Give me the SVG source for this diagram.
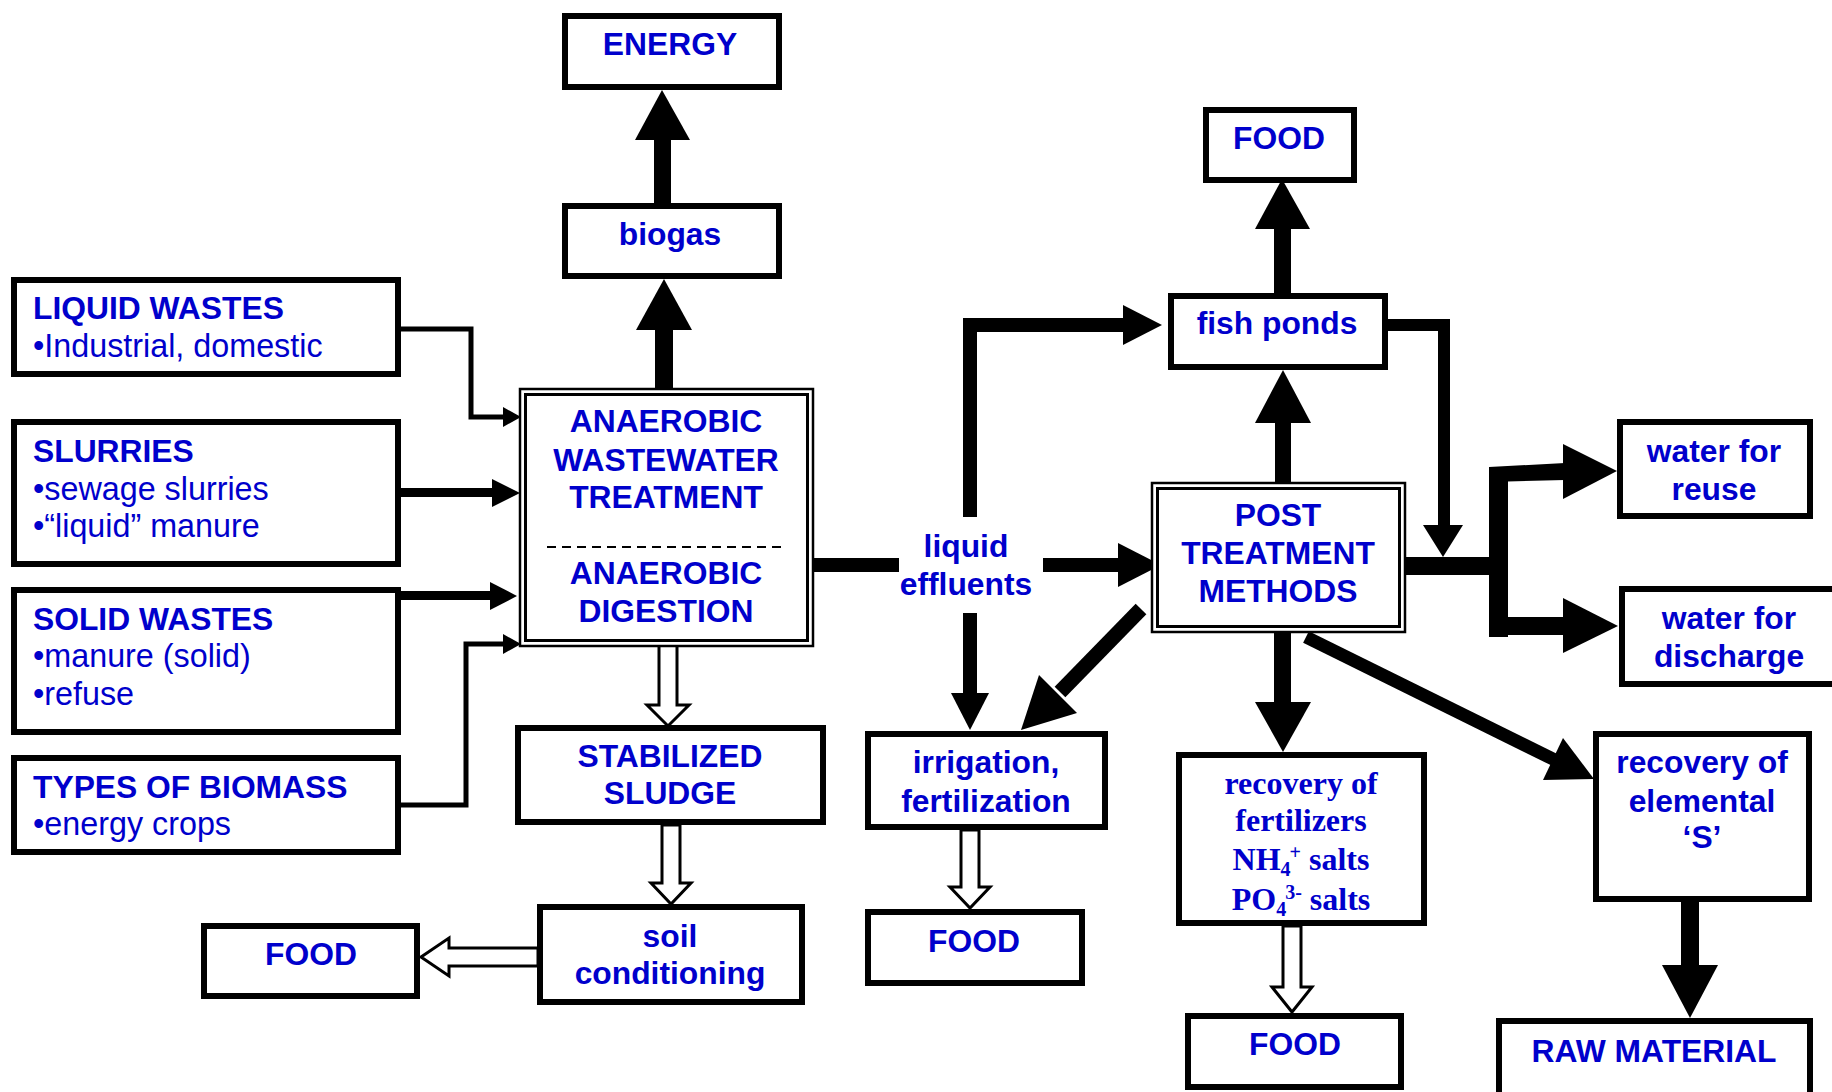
<svg xmlns="http://www.w3.org/2000/svg" width="1832" height="1092" viewBox="0 0 1832 1092">
<style>
.box{fill:#fff;stroke:#000;stroke-width:6}
.dbo{fill:#fff;stroke:#000;stroke-width:2.5}
.dbi{fill:none;stroke:#000;stroke-width:3}
.t{font-family:"Liberation Sans",Arial,sans-serif;font-weight:bold;font-size:31.8px;fill:#0000CC;text-anchor:middle}
.l{text-anchor:start}
.n{font-weight:normal;font-size:32.3px}
.s{font-family:"Liberation Serif","Times New Roman",serif;font-weight:bold;font-size:32px;fill:#0000CC;text-anchor:middle}
.ln{stroke:#000;fill:none}
.hd{fill:#000}
.hol{fill:#fff;stroke:#000;stroke-width:3;stroke-linejoin:miter}
</style>
<rect width="1832" height="1092" fill="#fff"/>
<g id="connectors">
  <!-- biogas to ENERGY -->
  <rect x="654" y="138" width="17" height="66" class="hd"/>
  <polygon points="635,140 690,140 662,90" class="hd"/>
  <!-- anaerobic to biogas -->
  <rect x="655" y="328" width="18" height="66" class="hd"/>
  <polygon points="636,330 692,330 664,279" class="hd"/>
  <!-- liquid wastes -->
  <polyline points="399,329 471,329 471,417 505,417" class="ln" stroke-width="5"/>
  <polygon points="503,407 521,417 503,427" class="hd"/>
  <!-- slurries -->
  <rect x="399" y="488" width="95" height="9" class="hd"/>
  <polygon points="492,479 520,493 492,507" class="hd"/>
  <!-- solid wastes -->
  <rect x="399" y="591" width="93" height="9" class="hd"/>
  <polygon points="490,582 517,596 490,610" class="hd"/>
  <!-- types of biomass -->
  <polyline points="399,805 466,805 466,644 505,644" class="ln" stroke-width="5"/>
  <polygon points="503,634 521,644 503,654" class="hd"/>
  <!-- anaerobic to liquid effluents -->
  <rect x="812" y="558" width="87" height="14" class="hd"/>
  <!-- liquid effluents to post treatment -->
  <rect x="1043" y="558" width="77" height="14" class="hd"/>
  <polygon points="1118,543 1161,565 1118,587" class="hd"/>
  <!-- liquid effluents up to fish ponds -->
  <polyline points="970,517 970,325 1125,325" class="ln" stroke-width="14" stroke-linejoin="miter"/>
  <polygon points="1123,305 1162,325 1123,345" class="hd"/>
  <!-- liquid effluents down to irrigation -->
  <rect x="963" y="613" width="14" height="82" class="hd"/>
  <polygon points="951,693 989,693 970,730" class="hd"/>
  <!-- post to irrigation diagonal -->
  <line x1="1141" y1="609" x2="1060" y2="692" class="ln" stroke-width="15"/>
  <polygon points="1077,713 1039,675 1021,730" class="hd"/>
  <!-- post to fish ponds -->
  <rect x="1275" y="421" width="16" height="62" class="hd"/>
  <polygon points="1255,423 1311,423 1283,370" class="hd"/>
  <!-- fish ponds to FOOD -->
  <rect x="1274" y="227" width="17" height="68" class="hd"/>
  <polygon points="1255,229 1310,229 1282,179" class="hd"/>
  <!-- fish ponds right and down -->
  <polyline points="1388,325 1444,325 1444,527" class="ln" stroke-width="12" stroke-linejoin="miter"/>
  <polygon points="1423,525 1463,525 1443,557" class="hd"/>
  <!-- post right to water -->
  <rect x="1404" y="557" width="96" height="18" class="hd"/>
  <rect x="1489" y="467" width="19" height="170" class="hd"/>
  <polygon points="1489,467 1565,463 1565,480 1489,482" class="hd"/>
  <polygon points="1563,444 1617,471 1563,499" class="hd"/>
  <rect x="1489" y="617" width="76" height="18" class="hd"/>
  <polygon points="1563,598 1618,626 1563,653" class="hd"/>
  <!-- post down to fertilizers -->
  <rect x="1274" y="631" width="17" height="73" class="hd"/>
  <polygon points="1255,702 1311,702 1283,752" class="hd"/>
  <!-- post to elemental S diagonal -->
  <line x1="1306" y1="637" x2="1555" y2="760" class="ln" stroke-width="13"/>
  <polygon points="1543,780 1563,738 1594,779" class="hd"/>
  <!-- S to raw material -->
  <rect x="1681" y="900" width="18" height="67" class="hd"/>
  <polygon points="1662,965 1718,965 1690,1018" class="hd"/>
  <!-- hollow arrows -->
  <polygon points="659,645 677,645 677,705 689,705 668,726 647,705 659,705" class="hol"/>
  <polygon points="662,825 680,825 680,883 691,883 671,904 651,883 662,883" class="hol"/>
  <polygon points="538,948 449,948 449,938 421,957 449,976 449,966 538,966" class="hol"/>
  <polygon points="961,830 979,830 979,887 990,887 970,908 950,887 961,887" class="hol"/>
  <polygon points="1283,926 1301,926 1301,987 1312,987 1292,1012 1272,987 1283,987" class="hol"/>
</g>
<g id="energy"><rect x="565" y="16" width="214" height="71" class="box"/><text x="670" y="55" class="t">ENERGY</text></g>
<g id="biogas"><rect x="565" y="206" width="214" height="70" class="box"/><text x="670" y="245" class="t">biogas</text></g>
<g id="liquid-wastes"><rect x="14" y="280" width="384" height="94" class="box"/>
  <text x="33" y="319" class="t l">LIQUID WASTES</text>
  <text x="33" y="357" class="t l n">•Industrial, domestic</text></g>
<g id="slurries"><rect x="14" y="422" width="384" height="142" class="box"/>
  <text x="33" y="462" class="t l">SLURRIES</text>
  <text x="33" y="500" class="t l n">•sewage slurries</text>
  <text x="33" y="537" class="t l n">•“liquid” manure</text></g>
<g id="solid-wastes"><rect x="14" y="590" width="384" height="142" class="box"/>
  <text x="33" y="630" class="t l">SOLID WASTES</text>
  <text x="33" y="667" class="t l n">•manure (solid)</text>
  <text x="33" y="705" class="t l n">•refuse</text></g>
<g id="biomass"><rect x="14" y="758" width="384" height="94" class="box"/>
  <text x="33" y="798" class="t l">TYPES OF BIOMASS</text>
  <text x="33" y="835" class="t l n">•energy crops</text></g>
<g id="anaerobic"><rect x="520" y="389" width="293" height="257" class="dbo"/>
  <rect x="525.5" y="394.5" width="282" height="246" class="dbi"/>
  <line x1="547" y1="547" x2="782" y2="547" stroke="#000" stroke-width="2" stroke-dasharray="9,6"/>
  <text x="666" y="432" class="t">ANAEROBIC</text>
  <text x="666" y="471" class="t">WASTEWATER</text>
  <text x="666" y="508" class="t">TREATMENT</text>
  <text x="666" y="584" class="t">ANAEROBIC</text>
  <text x="666" y="622" class="t">DIGESTION</text></g>
<g id="sludge"><rect x="518" y="728" width="305" height="94" class="box"/>
  <text x="670" y="767" class="t">STABILIZED</text>
  <text x="670" y="804" class="t">SLUDGE</text></g>
<g id="soil"><rect x="540" y="907" width="262" height="95" class="box"/>
  <text x="670" y="947" class="t">soil</text>
  <text x="670" y="984" class="t">conditioning</text></g>
<g id="food-left"><rect x="204" y="926" width="213" height="70" class="box"/><text x="311" y="965" class="t">FOOD</text></g>
<g id="liquid-effluents"><text x="966" y="557" class="t">liquid</text><text x="966" y="595" class="t">effluents</text></g>
<g id="fish-ponds"><rect x="1171" y="296" width="214" height="71" class="box"/><text x="1277" y="334" class="t">fish ponds</text></g>
<g id="food-top"><rect x="1206" y="110" width="148" height="70" class="box"/><text x="1279" y="149" class="t">FOOD</text></g>
<g id="post"><rect x="1152" y="483" width="253" height="149" class="dbo"/>
  <rect x="1157.5" y="488.5" width="242" height="138" class="dbi"/>
  <text x="1278" y="526" class="t">POST</text>
  <text x="1278" y="564" class="t">TREATMENT</text>
  <text x="1278" y="602" class="t">METHODS</text></g>
<g id="water-reuse"><rect x="1620" y="422" width="190" height="94" class="box"/>
  <text x="1714" y="462" class="t">water for</text><text x="1714" y="500" class="t">reuse</text></g>
<g id="water-discharge"><rect x="1622" y="589" width="220" height="95" class="box"/>
  <text x="1729" y="629" class="t">water for</text><text x="1729" y="667" class="t">discharge</text></g>
<g id="irrigation"><rect x="868" y="734" width="237" height="93" class="box"/>
  <text x="986" y="773" class="t">irrigation,</text><text x="986" y="812" class="t">fertilization</text></g>
<g id="food-mid"><rect x="868" y="912" width="214" height="71" class="box"/><text x="974" y="952" class="t">FOOD</text></g>
<g id="fertilizers"><rect x="1179" y="755" width="245" height="168" class="box"/>
  <text x="1301" y="794" class="s">recovery of</text>
  <text x="1301" y="831" class="s">fertilizers</text>
  <text x="1301" y="870" class="s">NH<tspan font-size="20" dy="6">4</tspan><tspan font-size="20" dx="-1" dy="-17">+</tspan><tspan dy="11"> salts</tspan></text>
  <text x="1301" y="910" class="s">PO<tspan font-size="20" dy="6">4</tspan><tspan font-size="20" dx="-1" dy="-17">3-</tspan><tspan dy="11"> salts</tspan></text></g>
<g id="food-bottom"><rect x="1188" y="1016" width="213" height="71" class="box"/><text x="1295" y="1055" class="t">FOOD</text></g>
<g id="elemental-s"><rect x="1596" y="734" width="213" height="165" class="box"/>
  <text x="1702" y="773" class="t">recovery of</text>
  <text x="1702" y="812" class="t">elemental</text>
  <text x="1702" y="848" class="t">‘S’</text></g>
<g id="raw-material"><rect x="1499" y="1021" width="311" height="80" class="box"/><text x="1654" y="1062" class="t">RAW MATERIAL</text></g>
</svg>
